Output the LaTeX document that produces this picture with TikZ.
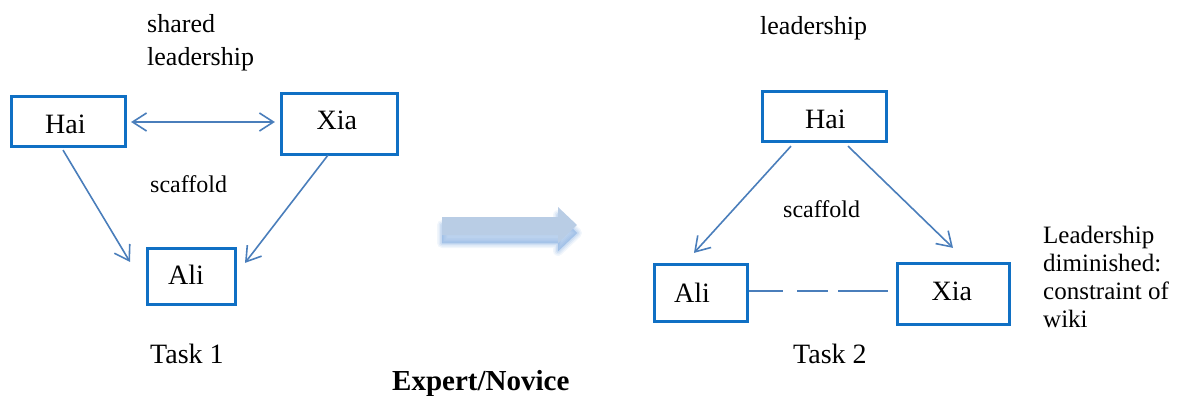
\documentclass[tikz,border=0pt]{standalone}
\usepackage{fontspec}
\setmainfont{Liberation Serif}
\usetikzlibrary{arrows.meta,calc}

\definecolor{boxblue}{RGB}{16,112,196}
\definecolor{linkblue}{RGB}{74,126,187}
\definecolor{bigarrow}{RGB}{185,205,229}
\definecolor{bigshadow}{RGB}{141,179,226}

\tikzset{
  personbox/.style={draw=boxblue, line width=3.2pt, inner sep=0pt},
  persontext/.style={inner sep=0pt, anchor=base west, font=\fontsize{28}{32}\selectfont},
  notetext/.style={inner sep=0pt, anchor=base west, font=\fontsize{24}{28}\selectfont},
  barb/.tip={Straight Barb[length=14pt,width=18pt,line width=1.6pt]},
  link/.style={draw=linkblue, line width=1.6pt, -barb},
  twoway/.style={draw=linkblue, line width=1.6pt, barb-barb},
}

\begin{document}
\begin{tikzpicture}[x=1pt,y=-1pt]
\useasboundingbox (0,0) rectangle (1181,396);

% ---------- Task 1 ----------
\node[personbox, minimum width=114pt, minimum height=50pt] (hai1) at (68.5,121.5) {};
\node[personbox, minimum width=116pt, minimum height=61pt] (xia1) at (339.5,124) {};
\node[personbox, minimum width=88pt,  minimum height=56pt] (ali1) at (191.5,276.5) {};
\node[persontext] (hai1t) at (45,133) {Hai};
\node[persontext] (xia1t) at (316.5,129.5) {Xia};
\node[persontext] (ali1t) at (168,284) {Ali};

\draw[twoway] ($(hai1.east)+(4,0.5)$) -- ($(xia1.west)+(-5,-2)$);
\draw[link] ($(hai1.south)+(-5.5,2)$) -- ($(ali1.north)+(-61.5,15)$);
\draw[link] ($(xia1.south)+(-11.5,-1)$) -- ($(ali1.north)+(53.5,16)$);

% multi-line texts are placed by the baseline of their last line
\node[inner sep=0pt, anchor=base west, align=left,
      font=\fontsize{26}{33}\selectfont] (shared) at (147,66) {shared\\leadership};
\node[notetext] (scaf1) at (150,192) {scaffold};
\node[persontext] (task1) at (150,363) {Task 1};

% ---------- transition arrow ----------
\foreach \w/\o in {10/0.12,7/0.16,4/0.22,1/0.3}{
  \fill[bigshadow, opacity=\o, draw=bigshadow, line width=\w pt, line join=round]
    (442,225) -- (558,225) -- (558,215) -- (577,233) -- (558,251) -- (558,243) -- (442,243) -- cycle;
}
\fill[bigarrow] (442,217) -- (558,217) -- (558,207) -- (577,225) -- (558,243) -- (558,235) -- (442,235) -- cycle;
\node[inner sep=0pt, anchor=base west, font=\bfseries\fontsize{29}{33}\selectfont] (expert) at (392,390) {Expert/Novice};

% ---------- Task 2 ----------
\node[personbox, minimum width=124pt, minimum height=50pt] (hai2) at (824.5,116.5) {};
\node[personbox, minimum width=93pt,  minimum height=57pt] (ali2) at (701,293) {};
\node[personbox, minimum width=112pt, minimum height=61pt] (xia2) at (953.5,294) {};
\node[persontext] (hai2t) at (805,128.5) {Hai};
\node[persontext] (ali2t) at (674,302.5) {Ali};
\node[persontext] (xia2t) at (931.5,300) {Xia};

\draw[link] ($(hai2.south)+(-33.5,3)$) -- ($(ali2.north)+(-7,-10)$);
\draw[link] ($(hai2.south)+(23.5,3)$) -- ($(xia2.north)+(-0.5,-14)$);
\draw[draw=linkblue, line width=1.6pt, dash pattern=on 34pt off 14pt on 31pt off 10pt on 60pt off 0pt]
  ($(ali2.east)+(0,-2)$) -- ($(xia2.west)+(-8,-3)$);

\node[inner sep=0pt, anchor=base west, font=\fontsize{26}{30}\selectfont] (lead2) at (760,35) {leadership};
\node[notetext] (scaf2) at (783,217) {scaffold};
\node[persontext] (task2) at (793,363) {Task 2};
\node[inner sep=0pt, anchor=base west, align=left,
      font=\fontsize{25}{28}\selectfont] (dimin) at (1043,327) {Leadership\\diminished:\\constraint of\\wiki};
\end{tikzpicture}
\end{document}
